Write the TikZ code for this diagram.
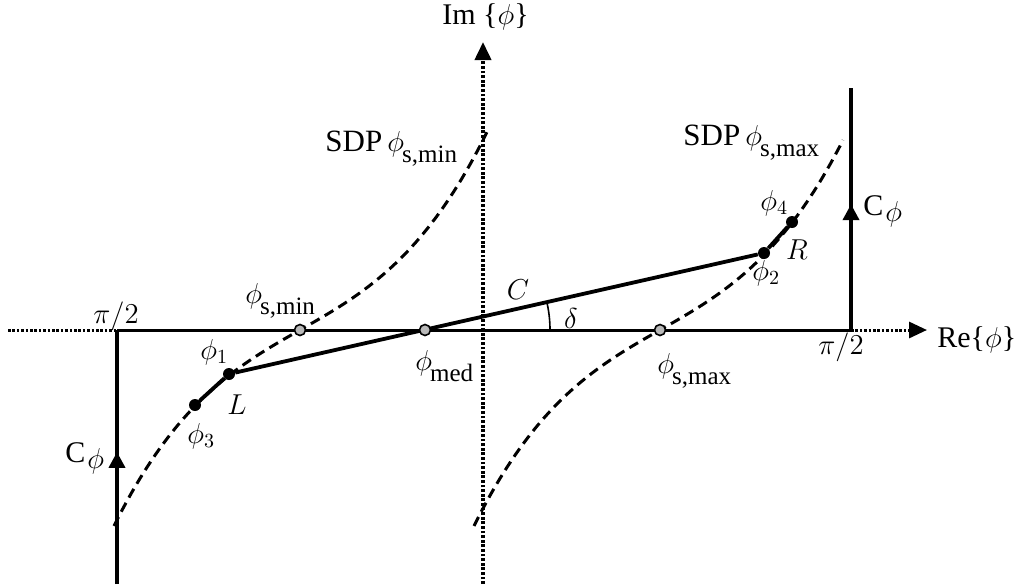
\documentclass[tikz,border=0pt]{standalone}
\usepackage{amsmath}
\usepackage{fontspec}
\setmainfont{Liberation Serif}
\usetikzlibrary{arrows.meta,decorations.markings}
\newcommand\phisub[1]{$\phi$\kern-1pt\raisebox{-5.5pt}{\fontsize{12.5}{14}\selectfont #1}}
\begin{document}
\begin{tikzpicture}[x=0.5pt,y=-0.5pt,
  every node/.style={font=\fontsize{14.5}{17}\selectfont, inner sep=0pt},
  big/.style={font=\fontsize{15.5}{18}\selectfont},
  axisline/.style={line width=1.5pt},
  dotline/.style={line width=1.9pt, dash pattern=on 1.4pt off 0.9pt},
  hdotline/.style={line width=1.5pt, dash pattern=on 1.3pt off 0.9pt},
  sdp/.style={line width=1.5pt, dash pattern=on 5pt off 3pt},
  cline/.style={line width=1.9pt},
  dot/.style={circle, fill=black, minimum size=6pt},
  gdot/.style={circle, draw=black, fill=gray!55, line width=0.8pt, minimum size=5.5pt},
  tip/.style={-{Triangle[length=9pt,width=8pt]}},
  midarrow/.style={postaction={decorate}, decoration={markings, mark=at position #1 with {\arrow{Triangle[length=8pt,width=8pt]}}}}
]
\useasboundingbox (0,0) rectangle (1021,584);
% axes coordinates
\coordinate (hl) at (8,330);
\coordinate (lc) at (117,330);
\coordinate (rc) at (851,330);
\coordinate (hx) at (927,330);
\coordinate (vt) at (483,42);
\coordinate (vb) at (483,584);
\coordinate (lb) at (117,584);
\coordinate (rt) at (851,88);
% axes
\draw[hdotline] (hl) -- (lc);
\draw[axisline] (lc) -- (rc);
\draw[hdotline, tip] (rc) -- (hx);
\draw[dotline, tip] (vb) -- (vt);
% contour lines
\draw[cline, midarrow=0.52] (lb) -- (lc);
\draw[cline, midarrow=0.52] (rc) -- (rt);
% steepest descent paths
\draw[sdp] plot[domain=-1.86:1.87, samples=90] ({300+100*\x},{330-57*\x-13.97*\x*\x*\x});
\draw[sdp] plot[domain=-1.86:1.83, samples=90] ({660+100*\x},{330-57*\x-13.97*\x*\x*\x});
% points
\node[dot] (p3) at (195,405) {};
\node[dot] (p1) at (229,374) {};
\node[dot] (p2) at (764,253) {};
\node[dot] (p4) at (792,222) {};
\draw[cline] (p3) -- (p1) -- (p2) -- (p4);
\node[gdot] (gmin) at (300,330) {};
\node[gdot] (gmed) at (425,330) {};
\node[gdot] (gmax) at (660,330) {};
% angle
\draw[line width=0.8pt] (gmed.center) ++(125,0) arc[start angle=0, end angle=-12.74, radius=125];
% labels
\node[anchor=base west, font=\fontsize{15}{18}\selectfont] (imlab) at (442,24) {Im \{$\phi$\}};
\node[anchor=base west, font=\fontsize{15}{18}\selectfont] (relab) at (937,347) {Re\{$\phi$\}};
\node[anchor=base west] (pil) at (93,323) {$\pi/2$};
\node[anchor=base west] (pir) at (818,354) {$\pi/2$};
\node[big, anchor=base west] (sdpmin) at (325,151) {SDP\,\phisub{s,min}};
\node[big, anchor=base west] (sdpmax) at (683,145) {SDP\,\phisub{s,max}};
\node[anchor=base west] (lsmin) at (245,303) {\phisub{s,min}};
\node[anchor=base west] (lmed) at (415,370) {\phisub{med}};
\node[anchor=base west] (lsmax) at (657,373) {\phisub{s,max}};
\node[anchor=base west] (l1) at (200,359) {$\phi_1$};
\node[anchor=base west] (l3) at (187,443) {$\phi_3$};
\node[anchor=base west] (l2) at (752,280) {$\phi_2$};
\node[anchor=base west] (l4) at (760,210) {$\phi_4$};
\node (lL) at (237,405) {$L$};
\node (lR) at (797,250) {$R$};
\node (lC) at (518,290) {$C$};
\node (ldelta) at (571,318) {$\delta$};
\node[anchor=base west, font=\fontsize{15}{18}\selectfont] (cl) at (65,462) {C\kern1pt\raisebox{-3pt}{$\phi$}};
\node[anchor=base west, font=\fontsize{15}{18}\selectfont] (cr) at (863,215) {C\kern1pt\raisebox{-3pt}{$\phi$}};
\end{tikzpicture}
\end{document}
